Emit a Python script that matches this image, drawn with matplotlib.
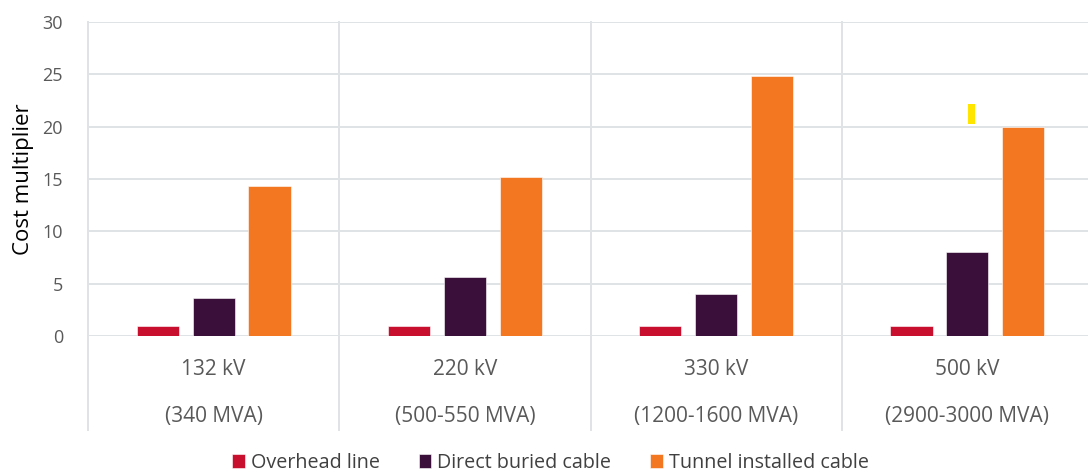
import matplotlib.pyplot as plt
import matplotlib.transforms as mtransforms
import numpy as np

plt.rcParams["font.family"] = ["Open Sans", "DejaVu Sans"]

# data
voltages = ["132 kV", "220 kV", "330 kV", "500 kV"]
capacities = ["(340 MVA)", "(500-550 MVA)", "(1200-1600 MVA)", "(2900-3000 MVA)"]
overhead_line = [1.0, 1.0, 1.0, 1.0]
direct_buried = [3.6, 5.6, 4.0, 8.0]
tunnel_installed = [14.3, 15.2, 24.8, 20.0]
# small yellow mark above the 500 kV group
marker_group = 3
marker_low = 20.3
marker_high = 22.2

series = [
    ("Overhead line", overhead_line, "#c8102e"),
    ("Direct buried cable", direct_buried, "#3a103b"),
    ("Tunnel installed cable", tunnel_installed, "#f37721"),
]

fig = plt.figure(figsize=(10.88, 4.76), dpi=100)
ax = fig.add_axes([88 / 1088, 140 / 476, 1005 / 1088, 314 / 476])

x = np.arange(len(voltages))
step = 0.222
width = 0.168
for i, (name, vals, color) in enumerate(series):
    ax.bar(x + (i - 1) * step, vals, width=width, color=color, label=name,
           edgecolor="white", linewidth=0.4, zorder=3)

ax.bar(marker_group + 0.016, marker_high - marker_low, bottom=marker_low,
       width=0.027, color="#ffe500", zorder=3)

ax.set_xlim(-0.5, len(voltages) - 0.5)
ax.set_ylim(0, 30)
ax.set_yticks(range(0, 31, 5))
ax.set_xticks([])
ax.tick_params(axis="y", length=0, labelsize=13, labelcolor="#595959", pad=18)
for s in ax.spines.values():
    s.set_visible(False)
ax.yaxis.grid(True, color="#dfe3e5", linewidth=1.4, zorder=0)
ax.set_ylabel("Cost multiplier", fontsize=16, color="black", labelpad=6)

# group separators, extending below the axis
trans = mtransforms.blended_transform_factory(ax.transData, ax.transAxes)
for xs in np.arange(-0.5, len(voltages), 1.0):
    ax.plot([xs, xs], [-0.30, 1.0], transform=trans, color="#dfe3e5",
            linewidth=1.4, clip_on=False, zorder=1)

for i in range(len(voltages)):
    ax.text(i, -0.108, voltages[i], transform=trans, ha="center", va="center",
            fontsize=15, color="#595959")
    ax.text(i, -0.256, capacities[i], transform=trans, ha="center", va="center",
            fontsize=15, color="#595959")

fig.legend(loc="center", bbox_to_anchor=(0.506, 1 - 463 / 476), ncol=3,
           frameon=False, fontsize=14.2, handlelength=0.65, handleheight=0.65,
           handletextpad=0.3, columnspacing=1.95, labelcolor="#404040")

fig.savefig("out.png", dpi=100)
